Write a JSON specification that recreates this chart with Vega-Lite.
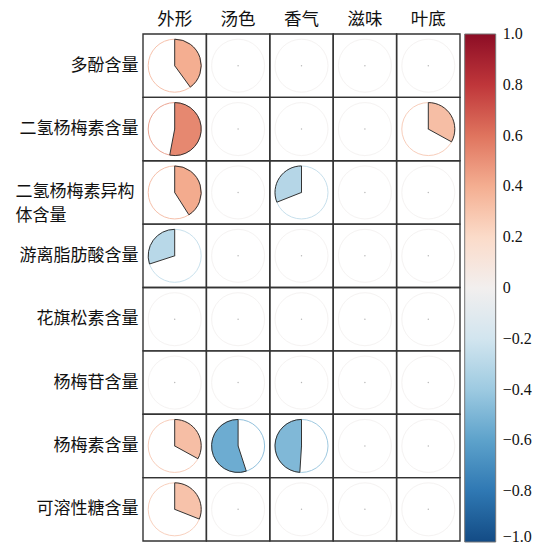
{
  "$schema": "https://vega.github.io/schema/vega-lite/v6.json",
  "width": 317,
  "height": 507,
  "padding": {"left": 5, "top": 5, "right": 0, "bottom": 0},
  "background": "white",
  "config": {
    "view": {"stroke": null},
    "font": "Liberation Serif, Noto Sans CJK SC"
  },
  "data": {
    "values": [
      {"row": "多酚含量", "col": "外形", "r": 0.40},
      {"row": "多酚含量", "col": "汤色", "r": 0},
      {"row": "多酚含量", "col": "香气", "r": 0},
      {"row": "多酚含量", "col": "滋味", "r": 0},
      {"row": "多酚含量", "col": "叶底", "r": 0},
      {"row": "二氢杨梅素含量", "col": "外形", "r": 0.53},
      {"row": "二氢杨梅素含量", "col": "汤色", "r": 0},
      {"row": "二氢杨梅素含量", "col": "香气", "r": 0},
      {"row": "二氢杨梅素含量", "col": "滋味", "r": 0},
      {"row": "二氢杨梅素含量", "col": "叶底", "r": 0.33},
      {"row": "二氢杨梅素异构体含量", "col": "外形", "r": 0.41},
      {"row": "二氢杨梅素异构体含量", "col": "汤色", "r": 0},
      {"row": "二氢杨梅素异构体含量", "col": "香气", "r": -0.31},
      {"row": "二氢杨梅素异构体含量", "col": "滋味", "r": 0},
      {"row": "二氢杨梅素异构体含量", "col": "叶底", "r": 0},
      {"row": "游离脂肪酸含量", "col": "外形", "r": -0.30},
      {"row": "游离脂肪酸含量", "col": "汤色", "r": 0},
      {"row": "游离脂肪酸含量", "col": "香气", "r": 0},
      {"row": "游离脂肪酸含量", "col": "滋味", "r": 0},
      {"row": "游离脂肪酸含量", "col": "叶底", "r": 0},
      {"row": "花旗松素含量", "col": "外形", "r": 0},
      {"row": "花旗松素含量", "col": "汤色", "r": 0},
      {"row": "花旗松素含量", "col": "香气", "r": 0},
      {"row": "花旗松素含量", "col": "滋味", "r": 0},
      {"row": "花旗松素含量", "col": "叶底", "r": 0},
      {"row": "杨梅苷含量", "col": "外形", "r": 0},
      {"row": "杨梅苷含量", "col": "汤色", "r": 0},
      {"row": "杨梅苷含量", "col": "香气", "r": 0},
      {"row": "杨梅苷含量", "col": "滋味", "r": 0},
      {"row": "杨梅苷含量", "col": "叶底", "r": 0},
      {"row": "杨梅素含量", "col": "外形", "r": 0.33},
      {"row": "杨梅素含量", "col": "汤色", "r": -0.55},
      {"row": "杨梅素含量", "col": "香气", "r": -0.49},
      {"row": "杨梅素含量", "col": "滋味", "r": 0},
      {"row": "杨梅素含量", "col": "叶底", "r": 0},
      {"row": "可溶性糖含量", "col": "外形", "r": 0.31},
      {"row": "可溶性糖含量", "col": "汤色", "r": 0},
      {"row": "可溶性糖含量", "col": "香气", "r": 0},
      {"row": "可溶性糖含量", "col": "滋味", "r": 0},
      {"row": "可溶性糖含量", "col": "叶底", "r": 0}
    ]
  },
  "encoding": {
    "x": {
      "field": "col", "type": "nominal",
      "scale": {"type": "band", "domain": ["外形", "汤色", "香气", "滋味", "叶底"], "paddingInner": 0, "paddingOuter": 0},
      "axis": {"orient": "top", "title": null, "domain": false, "ticks": false, "labelAngle": 0, "labelFontSize": 17.5, "labelColor": "#111", "labelPadding": 6, "minExtent": 29, "maxExtent": 29, "labelFont": "Liberation Serif, Noto Sans CJK SC"}
    },
    "y": {
      "field": "row", "type": "nominal",
      "scale": {"type": "band", "domain": ["多酚含量", "二氢杨梅素含量", "二氢杨梅素异构体含量", "游离脂肪酸含量", "花旗松素含量", "杨梅苷含量", "杨梅素含量", "可溶性糖含量"], "paddingInner": 0, "paddingOuter": 0},
      "axis": {"title": null, "domain": false, "ticks": false, "labelFontSize": 17, "labelColor": "#111", "labelLineHeight": 24, "minExtent": 138, "maxExtent": 138, "labelFont": "Liberation Serif, Noto Sans CJK SC",
        "labelAlign": {"condition": {"test": "datum.value == '二氢杨梅素异构体含量'", "value": "left"}, "value": "right"},
        "labelPadding": {"condition": {"test": "datum.value == '二氢杨梅素异构体含量'", "value": 128}, "value": 5},
        "labelExpr": "datum.label == '二氢杨梅素异构体含量' ? ['二氢杨梅素异构', '体含量'] : datum.label"}
    }
  },
  "layer": [
    {
      "mark": {"type": "rect", "fill": "transparent", "stroke": "#333", "strokeWidth": 1.4},
      "encoding": {}
    },
    {
      "mark": {"type": "point", "shape": "circle", "filled": false, "size": 2809, "strokeWidth": 1, "opacity": 0.75},
      "encoding": {
        "stroke": {
          "field": "r", "type": "quantitative",
          "scale": {"domain": [-1.00001, 1.00001], "scheme": {"name": "redblue", "extent": [1, 0]}},
          "legend": null
        }
      }
    },
    {
      "mark": {"type": "point", "shape": "circle", "filled": true, "size": 2, "color": "#999"},
      "encoding": {}
    },
    {
      "transform": [{"filter": "datum.r != 0"}],
      "mark": {"type": "arc", "radius": 26.5, "stroke": "#333", "strokeWidth": 1},
      "encoding": {
        "theta": {"field": "r", "type": "quantitative", "stack": null, "scale": {"domain": [-1, 1], "range": [-6.283185, 6.283185]}},
        "theta2": {"datum": 0},
        "color": {
          "field": "r", "type": "quantitative",
          "scale": {"domain": [-1, 1], "scheme": {"name": "redblue", "extent": [1, 0]}},
          "legend": {
            "type": "gradient", "direction": "vertical", "orient": "none",
            "legendX": 321.7, "legendY": 0,
            "gradientLength": 508, "gradientThickness": 31,
            "gradientStrokeColor": "#777", "gradientStrokeWidth": 1,
            "title": null,
            "values": [-1, -0.8, -0.6, -0.4, -0.2, 0, 0.2, 0.4, 0.6, 0.8, 1],
            "labelExpr": "datum.value == 0 ? '0' : format(datum.value, '.1f')",
            "labelFontSize": 16, "labelColor": "#111", "labelOffset": 7, "labelOverlap": false,
            "labelFont": "Liberation Serif",
            "encode": {"labels": {"update": {"baseline": {"signal": "datum.value == -1 ? 'alphabetic' : 'middle'"}}}}
          }
        }
      }
    }
  ]
}
